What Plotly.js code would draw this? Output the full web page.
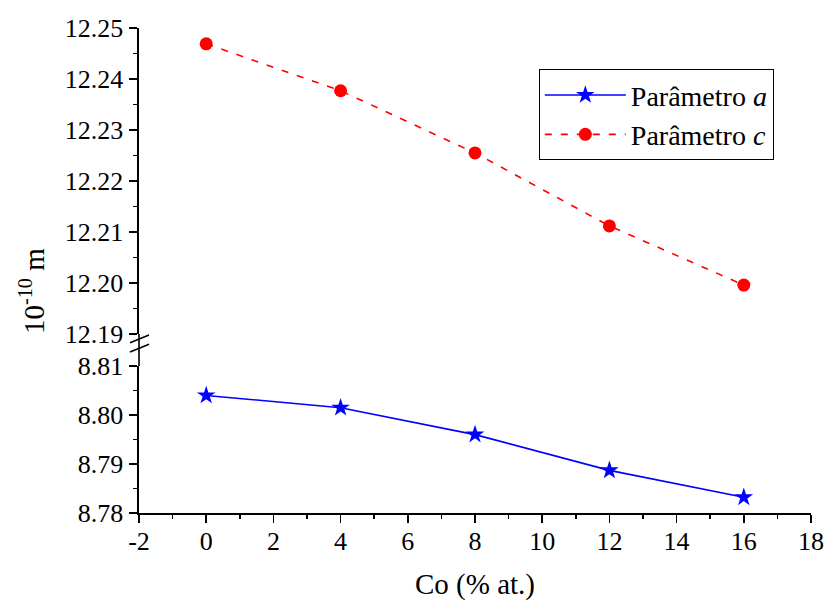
<!DOCTYPE html>
<html>
<head>
<meta charset="utf-8">
<script src="https://cdn.plot.ly/plotly-3.0.1.min.js"></script>
<style>html,body{margin:0;padding:0;background:#fff;}#chart{width:827px;height:602px;}</style>
</head>
<body>
<div id="chart"></div>
<script>
const coX = [0, 4, 8, 12, 16];
const paramA = [8.8040, 8.8015, 8.7960, 8.7887, 8.7832];
const paramC = [12.2469, 12.2377, 12.2255, 12.2112, 12.1996];
const nameA = 'Parâmetro <i>a</i>';
const nameC = 'Parâmetro <i>c</i>';
const xTitle = 'Co (% at.)';
const yTitle = '10<sup>-10</sup> m';
const xTickVals = [-2, 0, 2, 4, 6, 8, 10, 12, 14, 16, 18];
const xTickText = ['-2', '0', '2', '4', '6', '8', '10', '12', '14', '16', '18'];

function fnt(size) { return {family: 'Liberation Serif', size: size, color: '#000000'}; }
function minorTicks(dtick) { return {dtick: dtick, ticks: 'outside', ticklen: 4, tickwidth: 1.5, tickcolor: '#000'}; }

const traces = [
  {x: coX, y: paramA, name: nameA, xaxis: 'x', yaxis: 'y',
   mode: 'lines+markers', line: {color: '#0000ff', width: 1.6},
   marker: {symbol: 'star', size: 14, color: '#0000ff'}},
  {x: coX, y: paramC, name: nameC, xaxis: 'x', yaxis: 'y2',
   mode: 'lines+markers', line: {color: '#ff0000', width: 1.6, dash: '7px,9px'},
   marker: {symbol: 'circle', size: 13, color: '#ff0000'}}
];

const lowTop = 0.303, upBot = 0.369;

const layout = {
  width: 827, height: 602,
  margin: {l: 139, r: 16, t: 28, b: 89},
  paper_bgcolor: '#fff', plot_bgcolor: '#fff',
  font: fnt(26),
  showlegend: true,
  legend: {x: 0.595, y: 0.915, xanchor: 'left', yanchor: 'top',
           bordercolor: '#000', borderwidth: 1, bgcolor: '#fff',
           font: fnt(28), tracegroupgap: 0, itemwidth: 81},
  xaxis: {
    showgrid: false, zeroline: false, showline: true, linecolor: '#000', linewidth: 1.6,
    ticks: 'outside', ticklen: 8, tickwidth: 1.6, tickcolor: '#000', tickfont: fnt(26),
    range: [-2, 18], tickmode: 'array', tickvals: xTickVals, ticktext: xTickText, anchor: 'y',
    ticklabelstandoff: -4, minor: minorTicks(1)
  },
  yaxis: {
    showgrid: false, zeroline: false, showline: true, linecolor: '#000', linewidth: 1.6,
    ticks: 'outside', ticklen: 8, tickwidth: 1.6, tickcolor: '#000', tickfont: fnt(26),
    domain: [0, lowTop], range: [8.78, 8.81], dtick: 0.01, tick0: 8.78,
    tickformat: '.2f', anchor: 'x', ticklabelstandoff: 1, minor: minorTicks(0.005)
  },
  yaxis2: {
    showgrid: false, zeroline: false, showline: true, linecolor: '#000', linewidth: 1.6,
    ticks: 'outside', ticklen: 8, tickwidth: 1.6, tickcolor: '#000', tickfont: fnt(26),
    domain: [upBot, 1], range: [12.19, 12.25], dtick: 0.01, tick0: 12.19,
    tickformat: '.2f', anchor: 'x', ticklabelstandoff: 1, minor: minorTicks(0.005)
  },
  shapes: [
    {type: 'line', xref: 'paper', yref: 'paper', x0: 0, x1: 0, y0: lowTop, y1: upBot,
     line: {color: '#000', width: 1.6}},
    {type: 'line', xref: 'paper', yref: 'paper', x0: -0.0134, x1: 0.0149, y0: 0.351, y1: 0.367,
     line: {color: '#000', width: 1.6}},
    {type: 'line', xref: 'paper', yref: 'paper', x0: -0.0134, x1: 0.0149, y0: 0.332, y1: 0.348,
     line: {color: '#000', width: 1.6}}
  ],
  annotations: [
    {text: yTitle, xref: 'paper', yref: 'paper', x: -0.159, y: 0.458, textangle: -90,
     showarrow: false, xanchor: 'center', yanchor: 'middle', font: fnt(29)},
    {text: xTitle, xref: 'paper', yref: 'paper', x: 0.5, y: -0.148,
     showarrow: false, xanchor: 'center', yanchor: 'middle', font: fnt(29)}
  ]
};

Plotly.newPlot('chart', traces, layout, {displayModeBar: false, staticPlot: true});
</script>
</body>
</html>
